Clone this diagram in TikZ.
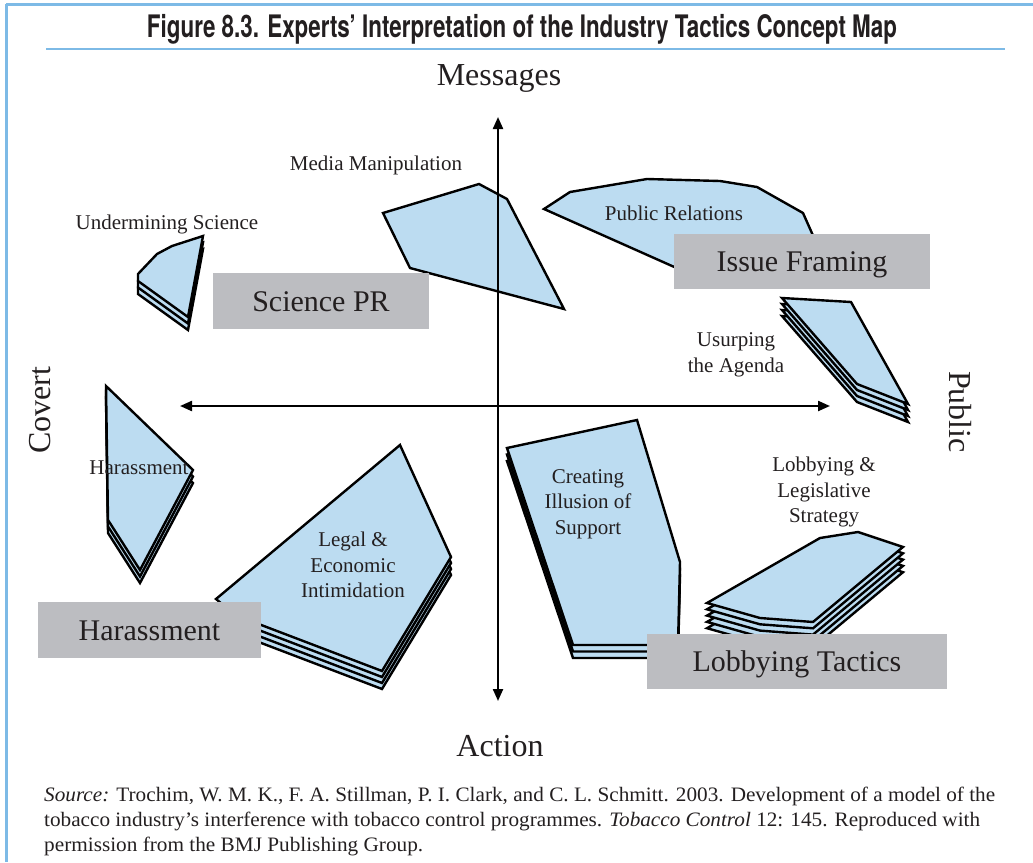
\documentclass[tikz,border=0pt]{standalone}
\usepackage{fontspec}
\setmainfont{Liberation Serif}
\newfontfamily\titlefont{TeX Gyre Heros}
\usepackage{graphicx}
\usetikzlibrary{arrows.meta}
\definecolor{blobfill}{RGB}{188,220,241}
\definecolor{frameblue}{RGB}{125,186,230}
\definecolor{boxgray}{RGB}{188,189,193}
\definecolor{ink}{RGB}{35,31,32}
\tikzset{
  blob/.style={draw=black, fill=blobfill, line width=2.4pt, line join=miter},
  tagbox/.style={fill=boxgray, inner sep=0pt, text=ink, font=\fontsize{30}{32}\selectfont, text height=20pt, text depth=0pt},
  lbl/.style={text=ink, font=\fontsize{21}{25.5}\selectfont, align=center, inner sep=0pt},
  axlbl/.style={text=ink, font=\fontsize{32}{36}\selectfont, inner sep=0pt},
  axisline/.style={line width=2.2pt, {Triangle[length=12pt,width=10pt]}-{Triangle[length=12pt,width=10pt]}},
  framerule/.style={draw=frameblue, line width=3pt},
  srcline/.style={anchor=base west, inner sep=0pt, text=ink, font=\fontsize{20.5}{25}\selectfont},
}
\newcommand\layered[3]{\foreach \k in {#1,...,0}{\path[blob,shift={(0,\k*#2)}] #3 -- cycle;}}
\begin{document}
\begin{tikzpicture}[x=1pt,y=-1pt]
\useasboundingbox (0,0) rectangle (1033,862);
% frame
\draw[framerule] (6,4) -- (1033,4);
\draw[framerule] (6,4) -- (6,862);
\draw[framerule, line width=2.5pt] (46,49) -- (1005,49);
\node[anchor=base, inner sep=0pt, text=ink] (title) at (522,37.5)
  {\resizebox{750pt}{\height}{\titlefont\fontsize{31}{33}\bfseries\selectfont Figure 8.3. Experts’ Interpretation of the Industry Tactics Concept Map}};

% clusters
\layered{0}{0}{(383,213) -- (479,184) -- (507,199) -- (564,309) -- (410,268)}
\layered{0}{0}{(544,209) -- (570,192) -- (647,179) -- (720,181) -- (757,187) -- (803,213) -- (815,240) -- (800,265) -- (690,274)}
\layered{2}{6.5}{(138,274) -- (157,254) -- (172,246) -- (203,236) -- (188,317) -- (138,281)}
\layered{2}{6.5}{(106,386) -- (193,470) -- (140,570) -- (108,520)}
\layered{3}{6}{(400,445) -- (451,557) -- (382,671) -- (235,615) -- (216,599)}
\layered{2}{6.5}{(507,448) -- (637,420) -- (680,562) -- (678,645) -- (573,645)}
\layered{3}{6}{(782,298) -- (851,302) -- (908,404) -- (857,384)}
\layered{4}{6.3}{(707,603) -- (820,538) -- (858,532) -- (903,547) -- (813,622) -- (760,618)}

% axes
\coordinate (ytop) at (498,117);
\coordinate (ybot) at (498,701);
\coordinate (xleft) at (180,406);
\coordinate (xright) at (830,406);
\draw[axisline] (ytop) -- (ybot);
\draw[axisline] (xleft) -- (xright);

\node[axlbl, anchor=base] (messages) at (499,85) {Messages};
\node[axlbl, anchor=base] (action) at (500,756) {Action};
\node[axlbl, rotate=90] (covert) at (40,410) {Covert};
\node[axlbl, rotate=-90] (public) at (960,412) {Public};

% gray tags
\node[tagbox, minimum width=216pt, minimum height=56pt] (sciencepr) at (321,301) {Science PR};
\node[tagbox, minimum width=256pt, minimum height=55pt] (issueframing) at (802,261) {Issue Framing};
\node[tagbox, minimum width=223pt, minimum height=56pt] (harassmenttag) at (149.5,630) {Harassment};
\node[tagbox, minimum width=300pt, minimum height=55pt] (lobbyingtag) at (797,661.5) {Lobbying Tactics};

% cluster labels
\node[lbl] (media) at (376,165) {Media Manipulation};
\node[lbl] (undermining) at (167,224) {Undermining Science};
\node[lbl] (pr) at (674,213) {Public Relations};
\node[lbl] (usurping) at (736,355) {Usurping\\the Agenda};
\node[lbl] (harass) at (139,468) {Harassment};
\node[lbl] (legal) at (353,565) {Legal \&\\Economic\\Intimidation};
\node[lbl] (illusion) at (588,504) {Creating\\Illusion of\\Support};
\node[lbl] (lobbying) at (824,492) {Lobbying \&\\Legislative\\Strategy};

% source
\node[srcline] (src1) at (44,801) {\resizebox{951pt}{\height}{\textit{Source:} Trochim, W. M. K., F. A. Stillman, P. I. Clark, and C. L. Schmitt. 2003. Development of a model of the}};
\node[srcline] (src2) at (44,826) {\resizebox{936pt}{\height}{tobacco industry’s interference with tobacco control programmes. \textit{Tobacco Control} 12: 145. Reproduced with}};
\node[srcline] (src3) at (44,851) {\resizebox{379pt}{\height}{permission from the BMJ Publishing Group.}};
\end{tikzpicture}
\end{document}
